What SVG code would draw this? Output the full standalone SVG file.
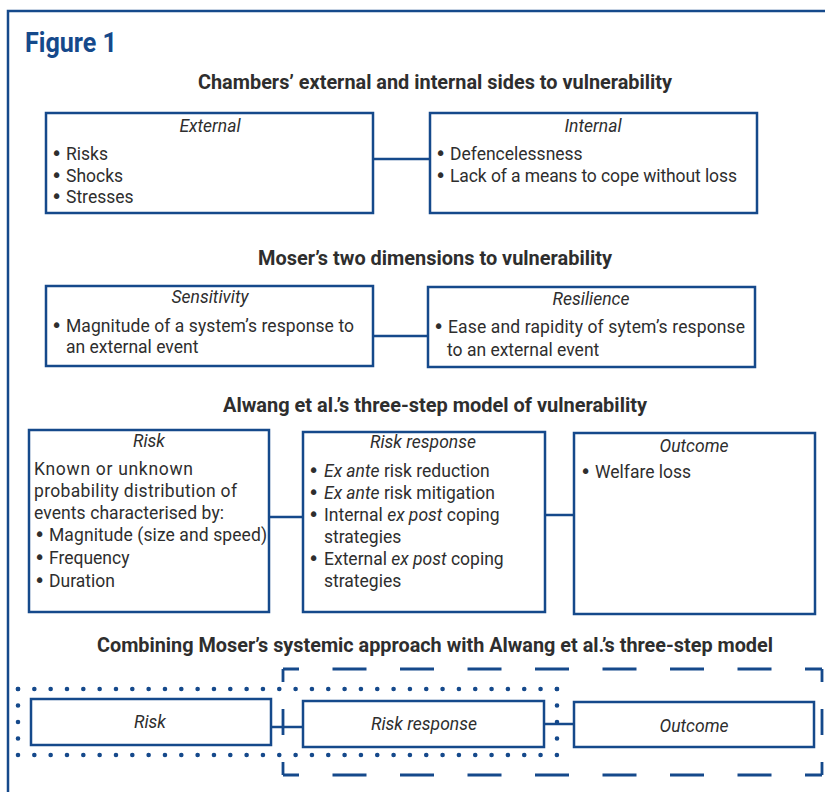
<svg xmlns="http://www.w3.org/2000/svg" width="825" height="792" viewBox="0 0 825 792">
<style>
.frame{fill:none;stroke:#15498b;stroke-width:2.5}
.box{fill:#fff;stroke:#15498b;stroke-width:2.5}
.conn{fill:none;stroke:#15498b;stroke-width:2.5}
.t{font-family:Roboto,"Liberation Sans",sans-serif;font-size:17.5px;fill:#2e2e2e}
.b{font-family:"DejaVu Sans",sans-serif;font-size:19px}
.i{font-style:italic}
.h{font-family:Roboto,"Liberation Sans",sans-serif;font-size:19.5px;font-weight:bold;fill:#2e2e2e;text-anchor:middle}
.c{text-anchor:middle}
.fig{font-family:Roboto,"Liberation Sans",sans-serif;font-size:28px;font-weight:bold;fill:#15498b}
.dot{fill:none;stroke:#15498b;stroke-width:4.6;stroke-linecap:round}
.dash{fill:none;stroke:#15498b;stroke-width:2.8}
</style>
<rect class="frame" x="8" y="11" width="840" height="800"/>
<text class="fig" x="25" y="52" textLength="92" lengthAdjust="spacingAndGlyphs">Figure 1</text>

<text class="h" x="435" y="89" textLength="474" lengthAdjust="spacingAndGlyphs">Chambers’ external and internal sides to vulnerability</text>
<text class="h" x="435" y="265" textLength="354" lengthAdjust="spacingAndGlyphs">Moser’s two dimensions to vulnerability</text>
<text class="h" x="435" y="412" textLength="424" lengthAdjust="spacingAndGlyphs">Alwang et al.’s three-step model of vulnerability</text>
<text class="h" x="435" y="652" textLength="676" lengthAdjust="spacingAndGlyphs">Combining Moser’s systemic approach with Alwang et al.’s three-step model</text>

<g id="connectors">
<line class="conn" x1="373" y1="159" x2="430" y2="159"/>
<line class="conn" x1="373" y1="336" x2="428" y2="336"/>
<line class="conn" x1="269" y1="517" x2="303" y2="517"/>
<line class="conn" x1="545" y1="515" x2="574" y2="515"/>
<line class="conn" x1="271" y1="727" x2="303" y2="727"/>
<line class="conn" x1="544" y1="724" x2="576" y2="724"/>
</g>

<g id="external">
<rect class="box" x="46" y="113" width="327" height="100"/>
<text class="t i c" x="210" y="132">External</text>
<text class="t" y="160"><tspan class="b" x="51">•</tspan><tspan x="66">Risks</tspan></text>
<text class="t" y="182"><tspan class="b" x="51">•</tspan><tspan x="66">Shocks</tspan></text>
<text class="t" y="203"><tspan class="b" x="51">•</tspan><tspan x="66">Stresses</tspan></text>
</g>
<g id="internal">
<rect class="box" x="430" y="113" width="327" height="100"/>
<text class="t i c" x="593" y="132">Internal</text>
<text class="t" y="160"><tspan class="b" x="435">•</tspan><tspan x="450">Defencelessness</tspan></text>
<text class="t" y="182"><tspan class="b" x="435">•</tspan><tspan x="450" textLength="287">Lack of a means to cope without loss</tspan></text>
</g>

<g id="sensitivity">
<rect class="box" x="46" y="286" width="327" height="80"/>
<text class="t i c" x="210" y="303">Sensitivity</text>
<text class="t" y="332"><tspan class="b" x="51">•</tspan><tspan x="66" textLength="288">Magnitude of a system’s response to</tspan></text>
<text class="t" x="66" y="353">an external event</text>
</g>
<g id="resilience">
<rect class="box" x="428" y="287" width="327" height="80"/>
<text class="t i c" x="591" y="305">Resilience</text>
<text class="t" y="333"><tspan class="b" x="433">•</tspan><tspan x="448" textLength="297">Ease and rapidity of sytem’s response</tspan></text>
<text class="t" x="447" y="356">to an external event</text>
</g>

<g id="risk">
<rect class="box" x="29" y="430" width="240" height="182"/>
<text class="t i c" x="149" y="447">Risk</text>
<text class="t" x="34" y="475" textLength="159">Known or unknown</text>
<text class="t" x="34" y="497" textLength="203">probability distribution of</text>
<text class="t" x="34" y="519" textLength="190">events characterised by:</text>
<text class="t" y="541"><tspan class="b" x="34">•</tspan><tspan x="49" textLength="218">Magnitude (size and speed)</tspan></text>
<text class="t" y="564"><tspan class="b" x="34">•</tspan><tspan x="49">Frequency</tspan></text>
<text class="t" y="587"><tspan class="b" x="34">•</tspan><tspan x="49">Duration</tspan></text>
</g>
<g id="risk-response">
<rect class="box" x="303" y="432" width="242" height="180"/>
<text class="t i c" x="423" y="448">Risk response</text>
<text class="t" y="477"><tspan class="b" x="308">•</tspan><tspan x="324" class="i">Ex ante</tspan><tspan> risk reduction</tspan></text>
<text class="t" y="499"><tspan class="b" x="308">•</tspan><tspan x="324" class="i">Ex ante</tspan><tspan> risk mitigation</tspan></text>
<text class="t" y="521"><tspan class="b" x="308">•</tspan><tspan x="324">Internal </tspan><tspan class="i">ex post</tspan><tspan> coping</tspan></text>
<text class="t" x="324" y="543">strategies</text>
<text class="t" y="565"><tspan class="b" x="308">•</tspan><tspan x="324">External </tspan><tspan class="i">ex post</tspan><tspan> coping</tspan></text>
<text class="t" x="324" y="587">strategies</text>
</g>
<g id="outcome">
<rect class="box" x="574" y="433" width="241" height="181"/>
<text class="t i c" x="694" y="452">Outcome</text>
<text class="t" y="478"><tspan class="b" x="580">•</tspan><tspan x="595">Welfare loss</tspan></text>
</g>

<g id="combined-groups">
<path class="dash" d="M283,669 H822" stroke-dasharray="34 33.5" stroke-dashoffset="18"/>
<path class="dash" d="M283,775 H822" stroke-dasharray="34 33.5" stroke-dashoffset="18"/>
<path class="dash" d="M283,669 V775" stroke-dasharray="26 27" stroke-dashoffset="13"/>
<path class="dash" d="M822,669 V775" stroke-dasharray="26 27" stroke-dashoffset="13"/>
<path class="dot" d="M18,689 H557" stroke-dasharray="0 16.33"/>
<path class="dot" d="M18,755 H557" stroke-dasharray="0 16.33"/>
<path class="dot" d="M18,689 V755" stroke-dasharray="0 16.5"/>
<path class="dot" d="M557,689 V755" stroke-dasharray="0 16.5"/>
</g>

<g id="risk-2">
<rect class="box" x="31" y="699" width="240" height="46"/>
<text class="t i c" x="150" y="728">Risk</text>
</g>
<g id="risk-response-2">
<rect class="box" x="303" y="701" width="241" height="46"/>
<text class="t i c" x="424" y="730">Risk response</text>
</g>
<g id="outcome-2">
<rect class="box" x="574" y="702" width="240" height="45"/>
<text class="t i c" x="694" y="732">Outcome</text>
</g>
</svg>
